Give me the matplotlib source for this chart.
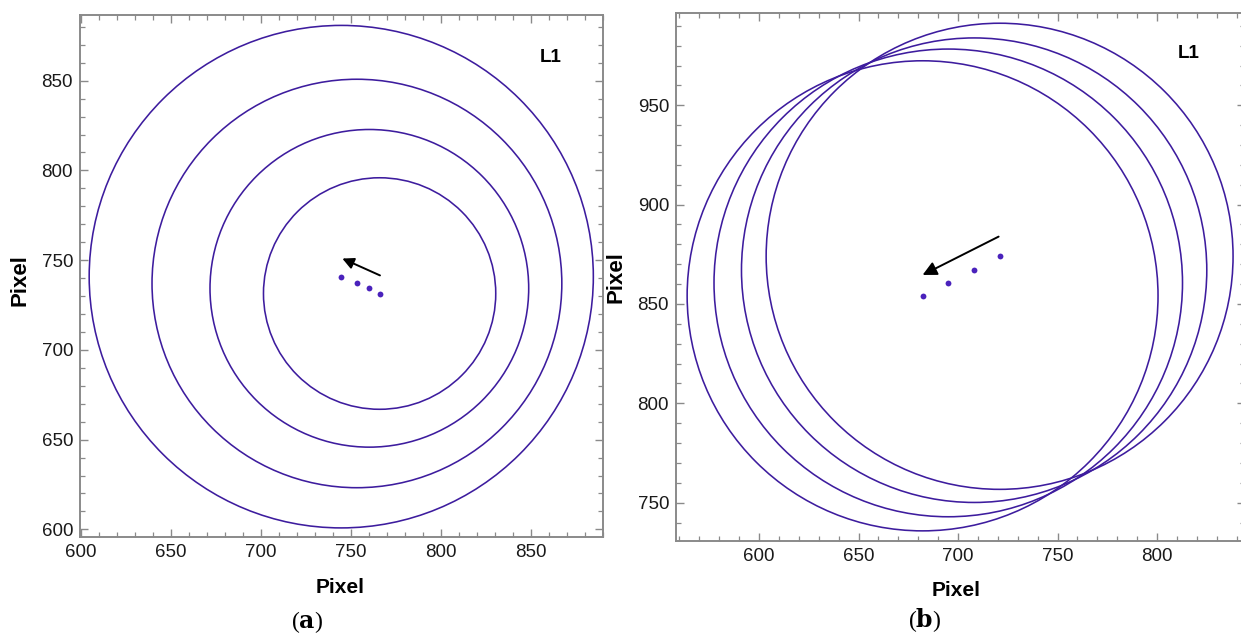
import numpy as np
import matplotlib
matplotlib.use("Agg")
import matplotlib.pyplot as plt
from matplotlib.patches import Circle
from matplotlib.ticker import MultipleLocator

plt.rcParams['font.family'] = ['Liberation Sans', 'DejaVu Sans']
plt.rcParams['mathtext.fontset'] = 'dejavuserif'

# ---- data (panel a) ----
a_cx = [744.8, 753.5, 760.4, 766.1]
a_cy = [740.8, 737.0, 734.3, 731.4]
a_r = [140.0, 113.8, 88.5, 64.5]
a_arrow_from = (766.3, 741.5)
a_arrow_to = (745.4, 750.9)
a_xlim = (599.7, 890.0)
a_ylim = (595.9, 886.6)
a_xticks = [600, 650, 700, 750, 800, 850]
a_yticks = [600, 650, 700, 750, 800, 850]

# ---- data (panel b) ----
b_cx = [682.2, 695.1, 708.1, 720.9]
b_cy = [854.1, 860.6, 867.0, 874.0]
b_r = [118.3, 117.7, 116.9, 117.3]
b_arrow_from = (720.4, 883.9)
b_arrow_to = (682.2, 864.6)
b_xlim = (558.3, 844.2)
b_ylim = (730.7, 996.6)
b_xticks = [600, 650, 700, 750, 800]
b_yticks = [750, 800, 850, 900, 950]

line_color = '#3D1C9E'
dot_color = '#4A22BC'
frame_color = '#8a8a8a'

W, H = 1241, 634
fig = plt.figure(figsize=(W / 100, H / 100), dpi=100)

def px_rect(l, r, t, b):
    return [l / W, 1 - b / H, (r - l) / W, (b - t) / H]

ax1 = fig.add_axes(px_rect(80, 602.7, 15, 536.7))
ax2 = fig.add_axes(px_rect(676, 1245, 12.7, 541))

def style(ax, xlim, ylim, xt, yt):
    ax.set_xlim(*xlim)
    ax.set_ylim(*ylim)
    ax.set_xticks(xt)
    ax.set_yticks(yt)
    ax.xaxis.set_minor_locator(MultipleLocator(10))
    ax.yaxis.set_minor_locator(MultipleLocator(10))
    ax.tick_params(which='both', direction='in', top=True, right=True,
                   color=frame_color, labelsize=13.5, labelcolor='#1a1a1a')
    ax.tick_params(which='major', length=6, width=1.0, pad=5)
    ax.tick_params(which='minor', length=3.5, width=0.9)
    for s in ax.spines.values():
        s.set_color(frame_color)
        s.set_linewidth(1.4)
    ax.set_xlabel('Pixel', fontsize=15, fontweight='bold')
    ax.set_ylabel('Pixel', fontsize=16, fontweight='bold')

style(ax1, a_xlim, a_ylim, a_xticks, a_yticks)
style(ax2, b_xlim, b_ylim, b_xticks, b_yticks)

for ax, cxs, cys, rs in [(ax1, a_cx, a_cy, a_r), (ax2, b_cx, b_cy, b_r)]:
    for cx, cy, r in zip(cxs, cys, rs):
        ax.add_patch(Circle((cx, cy), r, fill=False, ec=line_color, lw=1.15))
    ax.plot(cxs, cys, 'o', color=dot_color, ms=4.2, mec='none')

ax1.annotate('', xy=a_arrow_to, xytext=a_arrow_from,
             arrowprops=dict(arrowstyle='-|>', color='black', lw=1.4,
                             mutation_scale=17, shrinkA=0, shrinkB=0))
ax2.annotate('', xy=b_arrow_to, xytext=b_arrow_from,
             arrowprops=dict(arrowstyle='-|>', color='black', lw=1.4,
                             mutation_scale=21, shrinkA=0, shrinkB=0))

ax1.text(861, 863, 'L1', fontsize=13.5, fontweight='bold', ha='center', va='center')
ax2.text(815.8, 976.2, 'L1', fontsize=13.5, fontweight='bold', ha='center', va='center')

ax1.xaxis.set_label_coords(0.498, -0.079)
ax1.yaxis.set_label_coords(-0.094, 0.492)
ax2.xaxis.set_label_coords(0.493, -0.0765)
ax2.yaxis.set_label_coords(-0.0863, 0.5)

fig.text(306.7 / W, 1 - 621.7 / H, r'($\mathbf{a}$)', fontsize=17, ha='center', va='center',
         family='Liberation Serif')
fig.text(925 / W, 1 - 620 / H, r'($\mathbf{b}$)', fontsize=17, ha='center', va='center',
         family='Liberation Serif')

fig.savefig('out.png', dpi=100)
